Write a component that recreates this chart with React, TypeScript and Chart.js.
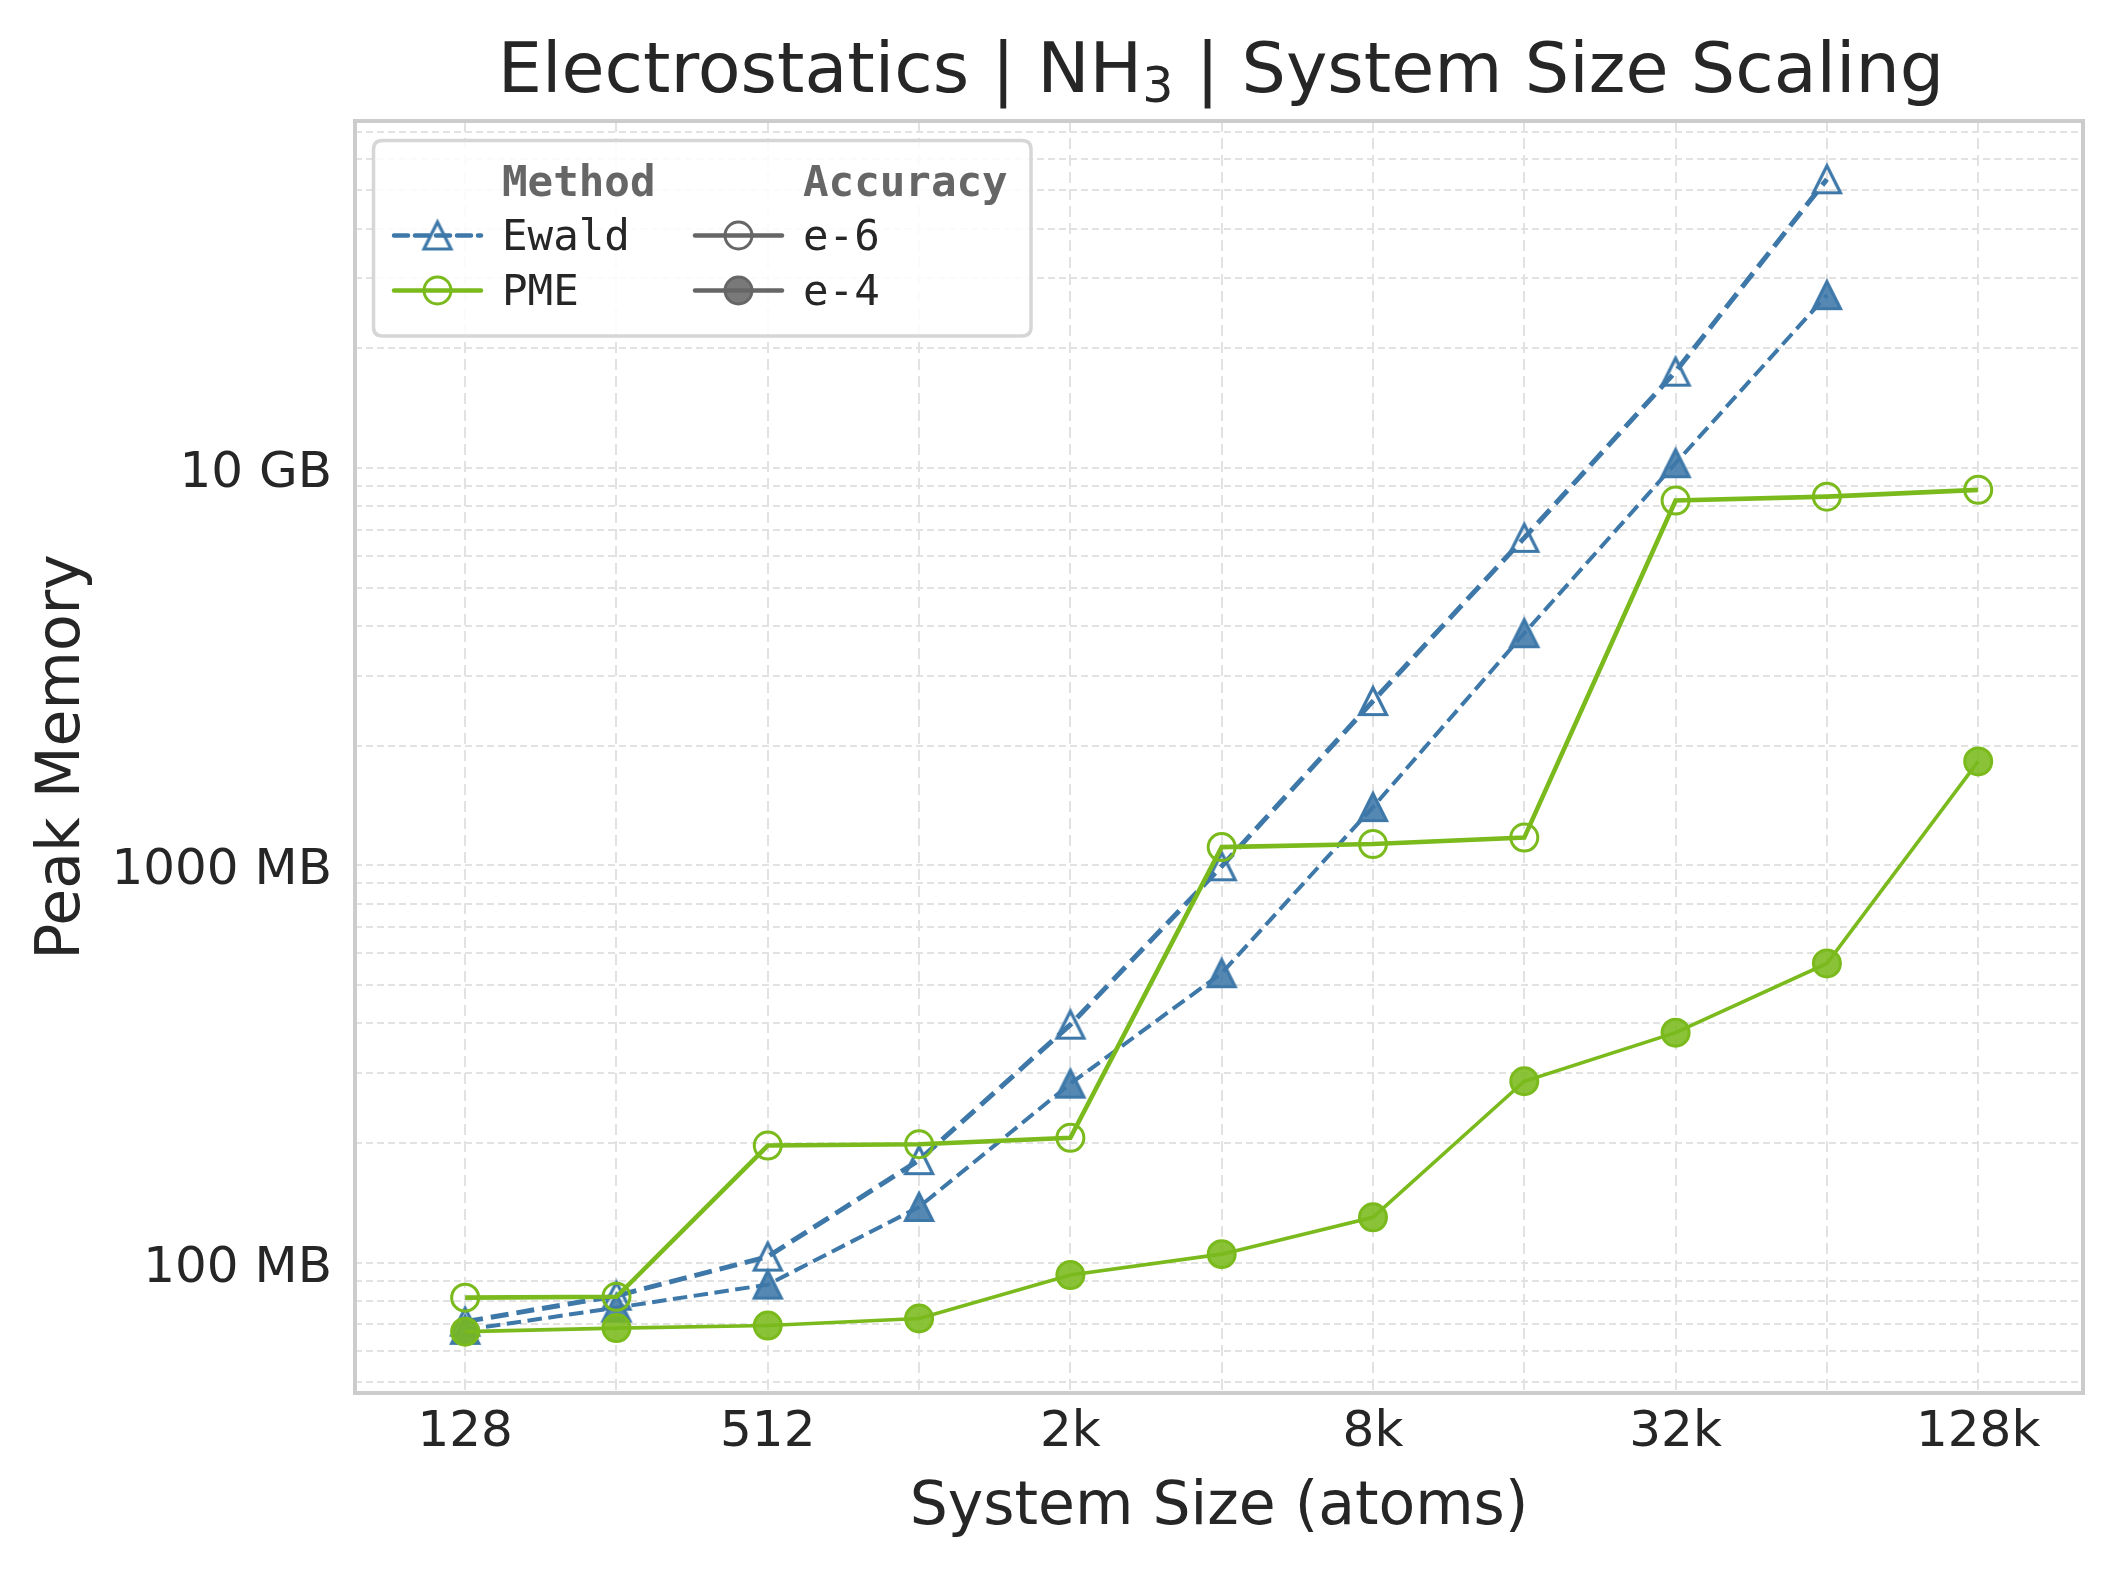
import React, { useEffect, useRef } from 'react';
import { Chart, registerables } from 'chart.js';

Chart.register(...registerables);

// ---------- data ----------
const sizes = [128, 256, 512, 1024, 2048, 4096, 8192, 16384, 32768, 65536, 131072];
const ewaldE6 = [71, 82.5, 103.5, 181, 397, 994, 2590, 6670, 17480, 53300];
const ewaldE4 = [67.7, 77, 88, 138, 282, 535, 1401, 3838, 10280, 27230];
const pmeE6 = [81.6, 82, 197, 198.5, 206, 1111, 1131, 1174, 8280, 8470, 8810];
const pmeE4 = [67, 68.4, 69.4, 72.3, 93, 105, 130, 286, 379, 566, 1826];

const xTickValues = [128, 512, 2048, 8192, 32768, 131072];
const xTickLabels = ['128', '512', '2k', '8k', '32k', '128k'];
const yTickValues = [100, 1000, 10000];
const yTickLabels = ['100 MB', '1000 MB', '10 GB'];

const X_MIN = 77.27;
const X_MAX = 211850;
const Y_MIN = 46.95;
const Y_MAX = 74720;

const yGridValues: number[] = [];
for (const d of [10, 100, 1000, 10000]) {
  for (let m = 1; m <= 9; m++) {
    const v = m * d;
    if (v >= Y_MIN && v <= Y_MAX) yGridValues.push(v);
  }
}

// ---------- style ----------
const BLUE = '#3d78a9';
const BLUE_FILL = 'rgba(61,120,169,0.88)';
const GREEN = '#7aba1c';
const GREEN_FILL = 'rgba(122,186,28,0.88)';
const GRAY = '#666666';
const GRAY_FILL = 'rgba(102,102,102,0.88)';
const TEXT = '#262626';
const GRID = '#e2e2e2';
const FONT = '"DejaVu Sans", sans-serif';
const MONO = '"DejaVu Sans Mono", monospace';

const W = 2118;
const H = 1570;

function makeTriangle(color: string, fill: string | null, a = 13.5, lw = 3.2): HTMLCanvasElement {
  const S = 50;
  const c = document.createElement('canvas');
  c.width = S;
  c.height = S;
  const ctx = c.getContext('2d')!;
  const cx = S / 2;
  const cy = S / 2;
  ctx.beginPath();
  ctx.moveTo(cx, cy - a);
  ctx.lineTo(cx - a, cy + a);
  ctx.lineTo(cx + a, cy + a);
  ctx.closePath();
  if (fill) {
    ctx.fillStyle = fill;
    ctx.fill();
  }
  ctx.lineJoin = 'miter';
  ctx.lineWidth = lw;
  ctx.strokeStyle = color;
  ctx.stroke();
  return c;
}

function pts(vals: number[]) {
  return vals.map((v, i) => ({ x: sizes[i], y: v }));
}

export default function App() {
  const ref = useRef<HTMLCanvasElement | null>(null);

  useEffect(() => {
    if (!ref.current) return;
    const triOpen = makeTriangle(BLUE, null);
    const triFilled = makeTriangle(BLUE, BLUE_FILL);

    const decor = {
      id: 'decor',
      afterDatasetsDraw(chart: any) {
        const { ctx, chartArea: a } = chart;
        ctx.save();
        ctx.strokeStyle = '#cccccc';
        ctx.lineWidth = 4;
        ctx.strokeRect(a.left, a.top, a.right - a.left, a.bottom - a.top);
        ctx.restore();
      },
      afterDraw(chart: any) {
        const { ctx, chartArea: a } = chart;
        ctx.save();
        // ---- title ----
        const p1 = 'Electrostatics | NH';
        const p2 = '3';
        const p3 = ' | System Size Scaling';
        const big = `70px ${FONT}`;
        const small = `49px ${FONT}`;
        ctx.font = big;
        const w1 = ctx.measureText(p1).width;
        const w3 = ctx.measureText(p3).width;
        ctx.font = small;
        const w2 = ctx.measureText(p2).width;
        const total = w1 + w2 + w3;
        const cx = (a.left + a.right) / 2 + 2;
        let x = cx - total / 2;
        const base = 92;
        ctx.fillStyle = TEXT;
        ctx.textBaseline = 'alphabetic';
        ctx.textAlign = 'left';
        ctx.font = big;
        ctx.fillText(p1, x, base);
        x += w1;
        ctx.font = small;
        ctx.fillText(p2, x, base + 10);
        x += w2;
        ctx.font = big;
        ctx.fillText(p3, x, base);

        // ---- legend ----
        const lx0 = 373.5, ly0 = 140.5, lx1 = 1031, ly1 = 336, r = 9;
        ctx.beginPath();
        ctx.moveTo(lx0 + r, ly0);
        ctx.lineTo(lx1 - r, ly0);
        ctx.quadraticCurveTo(lx1, ly0, lx1, ly0 + r);
        ctx.lineTo(lx1, ly1 - r);
        ctx.quadraticCurveTo(lx1, ly1, lx1 - r, ly1);
        ctx.lineTo(lx0 + r, ly1);
        ctx.quadraticCurveTo(lx0, ly1, lx0, ly1 - r);
        ctx.lineTo(lx0, ly0 + r);
        ctx.quadraticCurveTo(lx0, ly0, lx0 + r, ly0);
        ctx.closePath();
        ctx.fillStyle = 'rgba(255,255,255,0.85)';
        ctx.fill();
        ctx.strokeStyle = '#d6d6d6';
        ctx.lineWidth = 3.5;
        ctx.stroke();

        const col1Text = 502, col2Text = 803;
        ctx.font = `bold 42.5px ${MONO}`;
        ctx.fillStyle = GRAY;
        ctx.fillText('Method', col1Text, 196);
        ctx.fillText('Accuracy', col2Text, 196);
        ctx.font = `42.5px ${MONO}`;
        ctx.fillStyle = TEXT;
        ctx.fillText('Ewald', col1Text, 250);
        ctx.fillText('PME', col1Text, 305);
        ctx.fillText('e-6', col2Text, 250);
        ctx.fillText('e-4', col2Text, 305);

        const row1 = 235.5, row2 = 290.5;
        const h1a = 394, h1b = 481, h1c = 437.5;
        const h2a = 695, h2b = 782, h2c = 738.5;
        const line = (xa: number, xb: number, y: number, color: string, dash: number[], lw: number) => {
          ctx.beginPath();
          ctx.setLineDash(dash);
          ctx.strokeStyle = color;
          ctx.lineWidth = lw;
          ctx.lineCap = 'round';
          ctx.moveTo(xa, y);
          ctx.lineTo(xb, y);
          ctx.stroke();
          ctx.setLineDash([]);
          ctx.lineCap = 'butt';
        };
        const circle = (x0: number, y0: number, color: string, fill: string | null) => {
          ctx.beginPath();
          ctx.arc(x0, y0, 13.5, 0, Math.PI * 2);
          if (fill) {
            ctx.fillStyle = fill;
            ctx.fill();
          }
          ctx.strokeStyle = color;
          ctx.lineWidth = 3;
          ctx.stroke();
        };
        line(h1a, h1b, row1, BLUE, [14, 7], 4.5);
        ctx.drawImage(triOpen, h1c - triOpen.width / 2, row1 - triOpen.height / 2);
        line(h1a, h1b, row2, GREEN, [], 4.5);
        circle(h1c, row2, GREEN, null);
        line(h2a, h2b, row1, GRAY, [], 4.5);
        circle(h2c, row1, GRAY, null);
        line(h2a, h2b, row2, GRAY, [], 4.5);
        circle(h2c, row2, GRAY, GRAY_FILL);
        ctx.restore();
      },
    };

    const chart = new Chart(ref.current, {
      type: 'line',
      data: {
        datasets: [
          {
            label: 'PME e-4',
            data: pts(pmeE4),
            borderColor: GREEN,
            borderWidth: 3.6,
            pointStyle: 'circle',
            pointRadius: 13.5,
            pointBorderWidth: 3,
            pointBackgroundColor: GREEN_FILL,
            pointBorderColor: GREEN,
            fill: false,
            tension: 0,
          },
          {
            label: 'PME e-6',
            data: pts(pmeE6),
            borderColor: GREEN,
            borderWidth: 4.6,
            pointStyle: 'circle',
            pointRadius: 13.5,
            pointBorderWidth: 3,
            pointBackgroundColor: 'rgba(0,0,0,0)',
            pointBorderColor: GREEN,
            fill: false,
            tension: 0,
          },
          {
            label: 'Ewald e-4',
            data: pts(ewaldE4),
            borderColor: BLUE,
            borderWidth: 4,
            borderDash: [14.5, 6.5],
            pointStyle: triFilled,
            pointRadius: 15,
            fill: false,
            tension: 0,
          },
          {
            label: 'Ewald e-6',
            data: pts(ewaldE6),
            borderColor: BLUE,
            borderWidth: 5,
            borderDash: [18, 8],
            pointStyle: triOpen,
            pointRadius: 15,
            fill: false,
            tension: 0,
          },
        ] as any,
      },
      options: {
        animation: false,
        responsive: false,
        devicePixelRatio: 1,
        layout: { padding: { top: 121, right: 35, bottom: 0, left: 0 } },
        plugins: {
          legend: { display: false },
          title: { display: false },
          tooltip: { enabled: false },
        },
        scales: {
          x: {
            type: 'logarithmic',
            min: X_MIN,
            max: X_MAX,
            bounds: 'data',
            afterBuildTicks: (s: any) => {
              s.ticks = sizes.map((v) => ({ value: v }));
            },
            afterFit: (s: any) => {
              s.height = 177;
            },
            ticks: {
              autoSkip: false,
              maxRotation: 0,
              minRotation: 0,
              padding: 10,
              color: TEXT,
              font: { family: FONT, size: 50 },
              callback: (v: any) => {
                const i = xTickValues.indexOf(Number(v));
                return i >= 0 ? xTickLabels[i] : '';
              },
            },
            grid: { color: GRID, lineWidth: 2, drawTicks: false },
            border: { display: false, dash: [11, 6] },
            title: {
              display: true,
              text: 'System Size (atoms)',
              color: TEXT,
              font: { family: FONT, size: 60 },
              padding: { top: 0, bottom: 26 },
            },
          },
          y: {
            type: 'logarithmic',
            min: Y_MIN,
            max: Y_MAX,
            bounds: 'data',
            afterBuildTicks: (s: any) => {
              s.ticks = yGridValues.map((v) => ({ value: v }));
            },
            afterFit: (s: any) => {
              s.width = 355;
            },
            ticks: {
              autoSkip: false,
              padding: 23,
              labelOffset: 6,
              color: TEXT,
              font: { family: FONT, size: 50 },
              callback: (v: any) => {
                const i = yTickValues.indexOf(Number(v));
                return i >= 0 ? yTickLabels[i] : '';
              },
            },
            grid: { color: GRID, lineWidth: 2, drawTicks: false },
            border: { display: false, dash: [7, 4] },
            title: {
              display: true,
              text: 'Peak Memory',
              color: TEXT,
              font: { family: FONT, size: 60 },
              padding: { top: 27, bottom: 0 },
            },
          },
        },
      } as any,
      plugins: [decor],
    });

    return () => chart.destroy();
  }, []);

  return (
    <div style={{ position: 'fixed', left: 0, top: 0, width: W, height: H, background: '#ffffff' }}>
      <canvas ref={ref} width={W} height={H} style={{ width: W, height: H, display: 'block' }} />
    </div>
  );
}
